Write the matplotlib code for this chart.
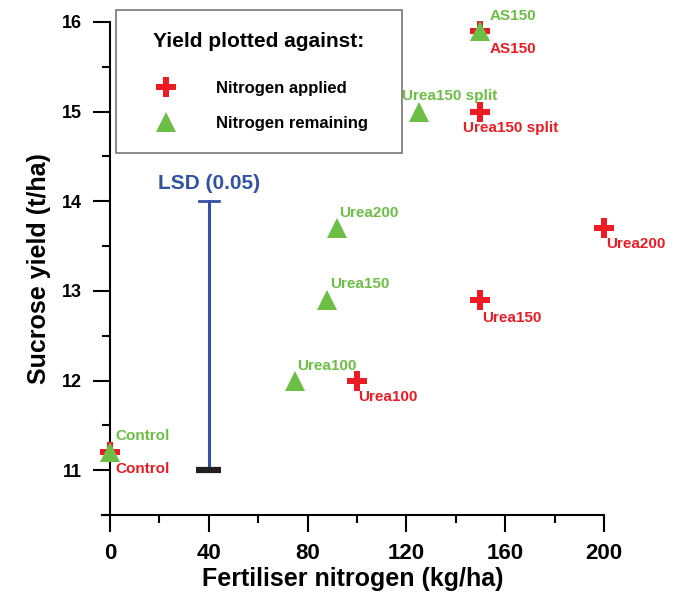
import matplotlib.pyplot as plt
from matplotlib.ticker import MultipleLocator

# -------------------------------
# Data
# -------------------------------
treatments = ["Control", "Urea100", "Urea150", "Urea200", "Urea150 split", "AS150"]
n_applied = [0, 100, 150, 200, 150, 150]
n_remaining = [0, 75, 88, 92, 125, 150]
sucrose_yield = [11.2, 12.0, 12.9, 13.7, 15.0, 15.9]

lsd_x = 40
lsd_low = 11.0
lsd_high = 14.0

# label offsets in pixels (dx, dy) for each treatment
red_offsets = [(5, -17), (1, -16), (2, -18), (2, -16), (-17, -16), (9, -18)]
green_offsets = [(5, 16), (2, 15), (3, 16), (2, 15), (-17, 16), (9, 15)]

RED = "#ED1C24"
GREEN = "#6CBE45"
BLUE = "#3352A4"

plt.rcParams["font.family"] = ["Liberation Sans", "DejaVu Sans"]
plt.rcParams["font.weight"] = "bold"

fig = plt.figure(figsize=(6.79, 5.96), dpi=100)
ax = fig.add_axes([101.6 / 679, 1 - 515 / 596, 502.4 / 679, 493 / 596])

# -------------------------------
# Points
# -------------------------------
ax.plot(n_applied, sucrose_yield, linestyle="none", marker="P", markersize=15,
        color=RED, markeredgewidth=0, clip_on=False, zorder=3,
        label="Nitrogen applied")
ax.plot(n_remaining, sucrose_yield, linestyle="none", marker="^", markersize=14,
        color=GREEN, markeredgewidth=0, clip_on=False, zorder=4,
        label="Nitrogen remaining")

for i, name in enumerate(treatments):
    ax.annotate(name, (n_applied[i], sucrose_yield[i]), xytext=red_offsets[i],
                textcoords="offset pixels", color=RED, fontsize=11,
                fontweight="bold", ha="left", va="center", annotation_clip=False)
    ax.annotate(name, (n_remaining[i], sucrose_yield[i]), xytext=green_offsets[i],
                textcoords="offset pixels", color=GREEN, fontsize=11,
                fontweight="bold", ha="left", va="center", annotation_clip=False)

# -------------------------------
# LSD bar
# -------------------------------
ax.plot([lsd_x, lsd_x], [lsd_low, lsd_high], color=BLUE, lw=2.2, zorder=2)
ax.plot([lsd_x - 4, lsd_x + 4], [lsd_high, lsd_high], color=BLUE, lw=2, zorder=2)
ax.plot([lsd_x - 5, lsd_x + 5], [lsd_low, lsd_low], color="#231F20", lw=4.5,
        solid_capstyle="butt", zorder=2)
ax.text(lsd_x, lsd_high + 0.2, "LSD (0.05)", color=BLUE, fontsize=15,
        fontweight="bold", ha="center", va="center")

# -------------------------------
# Axes
# -------------------------------
ax.set_xlim(-3.4, 200)
ax.set_ylim(10.5, 16)
ax.spines["top"].set_visible(False)
ax.spines["right"].set_visible(False)
ax.spines["left"].set_position(("data", 0))
ax.spines["left"].set_bounds(10.5, 16)
ax.spines["bottom"].set_bounds(-3.4, 200)
for s in ["left", "bottom"]:
    ax.spines[s].set_linewidth(1.5)

ax.xaxis.set_major_locator(MultipleLocator(40))
ax.xaxis.set_minor_locator(MultipleLocator(20))
ax.yaxis.set_major_locator(MultipleLocator(1))
ax.yaxis.set_minor_locator(MultipleLocator(0.5))
ax.tick_params(axis="both", which="major", length=12, width=1.5, direction="out")
ax.tick_params(axis="both", which="minor", length=6, width=1.5, direction="out")
ax.tick_params(axis="x", which="major", labelsize=16, pad=8)
ax.tick_params(axis="y", which="major", labelsize=13, pad=8)
for lab in ax.get_xticklabels() + ax.get_yticklabels():
    lab.set_fontweight("bold")

ax.set_xlabel("Fertiliser nitrogen (kg/ha)", fontsize=18, fontweight="bold",
              labelpad=2)
ax.set_ylabel("Sucrose yield (t/ha)", fontsize=18, fontweight="bold",
              labelpad=8)

# -------------------------------
# Legend
# -------------------------------
leg = ax.legend(loc="upper left",
                bbox_to_anchor=(116 / 679, 1 - 150 / 596, 286 / 679, 140 / 596),
                bbox_transform=fig.transFigure, mode="expand",
                title="Yield plotted against:",
                fontsize=12, title_fontproperties={"size": 15, "weight": "bold"},
                frameon=True, fancybox=False, edgecolor="#555555",
                borderpad=1.3, labelspacing=1.19, handletextpad=1.38,
                handlelength=3.35, borderaxespad=0)
leg.get_frame().set_linewidth(1.2)
# extra room between the title and the entries
leg._legend_box.sep = 22
for t in leg.get_texts():
    t.set_fontweight("bold")

plt.savefig("out.png", dpi=100)
